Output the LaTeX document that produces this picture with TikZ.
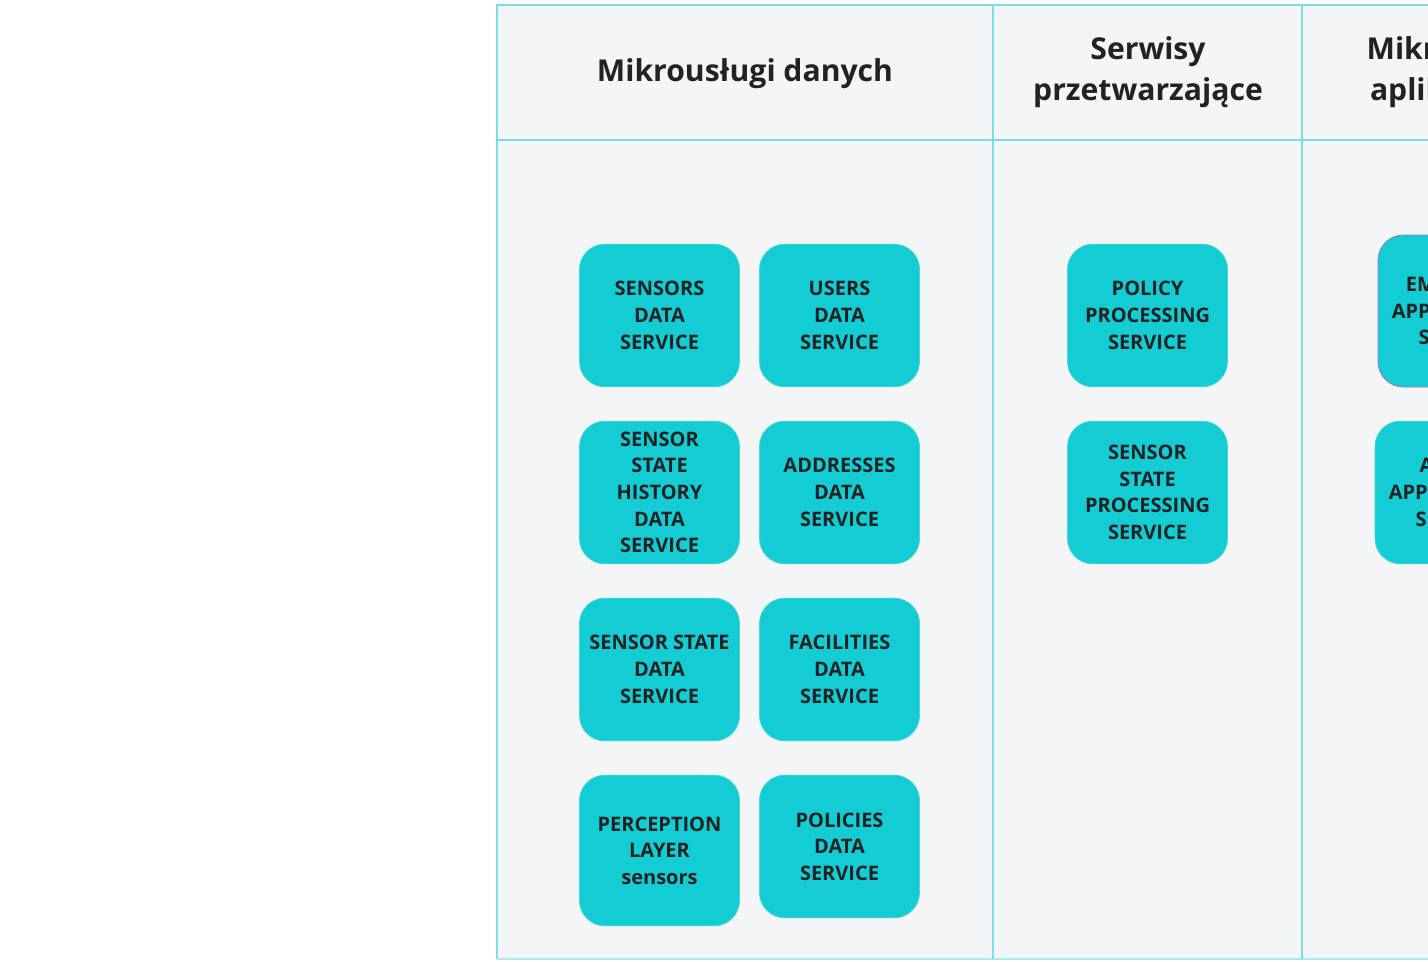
\documentclass[tikz,border=0pt]{standalone}
\usepackage{fontspec}
\setmainfont{Open Sans}
\usepackage{tikz}
\definecolor{panel}{HTML}{F4F5F7}
\definecolor{grid}{HTML}{7EDDE3}
\definecolor{gridlight}{HTML}{A9E9ED}
\definecolor{tile}{HTML}{14CCD4}
\definecolor{ink}{HTML}{222222}
\definecolor{mark}{HTML}{9A78CF}

\begin{document}
\begin{tikzpicture}[x=0.75pt,y=-0.75pt,
    svc/.style={fill=tile, draw=tile!80!white, line width=0.6pt, rounded corners=19pt,
        minimum width=120pt, minimum height=107pt, align=center, text=ink,
        font=\fontsize{15}{20}\selectfont\bfseries, inner sep=0pt},
    hdr/.style={align=center, text=ink, font=\fontsize{22.6}{31}\selectfont\bfseries}]
    % Page and table frame
    \useasboundingbox (0,0) rectangle (1428,961);
    \clip (0,0) rectangle (1428,961);
    \fill[white] (0,0) rectangle (1428,961);
    \fill[panel] (497,5) rectangle (1440,959);
    \draw[grid, line width=1pt] (1440,5) -- (497,5) -- (497,959);
    \draw[gridlight, line width=1.2pt] (497,959) -- (1440,959);
    \draw[grid, line width=0.8pt] (497,140) -- (1440,140);
    \draw[grid, line width=0.8pt] (993,5) -- (993,959);
    \draw[grid, line width=0.8pt] (1302,5) -- (1302,959);

    % Column headers
    \node[hdr] (hdata) at (745,73.5) {Mikrousługi danych};
    \node[hdr] (hproc) at (1148,72) {Serwisy\\przetwarzające};
    \node[hdr] (happ) at (1456,72) {Mikrousługi\\aplikacyjne};

    % Data microservices
    \node[svc] (sensors) at (659.5,315.5) {SENSORS\\DATA\\SERVICE};
    \node[svc] (users) at (839.5,315.5) {USERS\\DATA\\SERVICE};
    \node[svc] (history) at (659.5,492.5) {SENSOR\\STATE\\HISTORY\\DATA\\SERVICE};
    \node[svc] (addresses) at (839.5,492.5) {ADDRESSES\\DATA\\SERVICE};
    \node[svc] (state) at (659.5,669.5) {SENSOR STATE\\DATA\\SERVICE};
    \node[svc] (facilities) at (839.5,669.5) {FACILITIES\\DATA\\SERVICE};
    \node[svc, minimum height=113pt] (perception) at (659.5,850.5) {PERCEPTION\\LAYER\\sensors};
    \node[svc] (policies) at (839.5,846.5) {POLICIES\\DATA\\SERVICE};

    % Processing services
    \node[svc] (policyproc) at (1147.5,315.5) {POLICY\\PROCESSING\\SERVICE};
    \node[svc] (stateproc) at (1147.5,492.5) {SENSOR\\STATE\\PROCESSING\\SERVICE};

    % Application microservices
    \node[svc, draw=mark, minimum height=114pt] (employee) at (1458,311) {EMPLOYEE\\APPLICATION\\SERVICE};
    \node[svc] (alarm) at (1455,492.5) {ALARM\\APPLICATION\\SERVICE};
\end{tikzpicture}
\end{document}
